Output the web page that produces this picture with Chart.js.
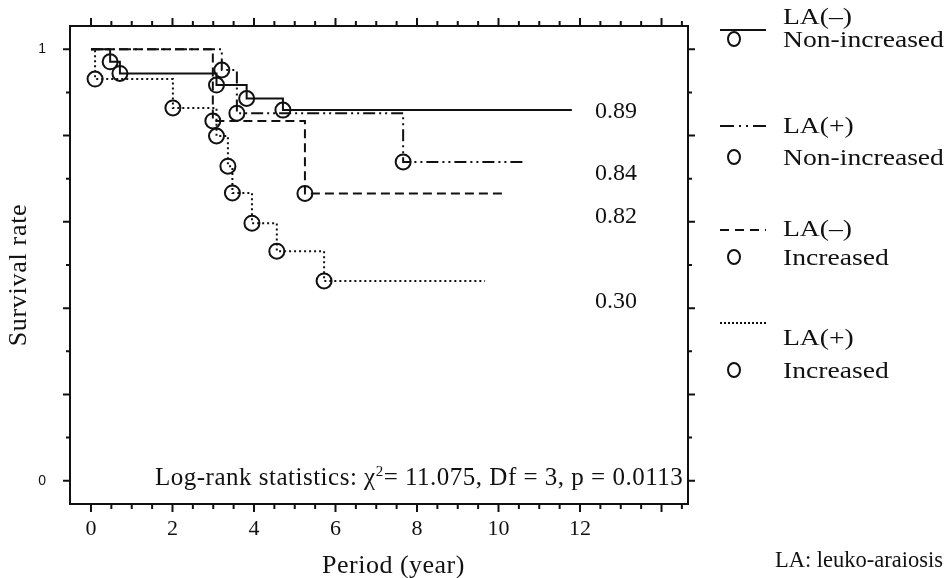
<!DOCTYPE html>
<html>
<head>
<meta charset="utf-8">
<script src="https://cdn.jsdelivr.net/npm/chart.js@4.4.1/dist/chart.umd.min.js"></script>
<style>
body { margin: 0; background: #fff; }
#wrap { position: relative; width: 946px; height: 578px; font-family: "Liberation Serif", "Times New Roman", serif; color: #111; }
#chart { position: absolute; left: 0; top: 0; }
.t { position: absolute; white-space: nowrap; font-size: 24px; line-height: 26px; }
.lg { transform: scaleX(1.15); transform-origin: left center; }
.mk { position: absolute; width: 10px; height: 12px; border: 2px solid #111; border-radius: 50%; }
svg.ls { position: absolute; }
</style>
</head>
<body>
<div id="wrap">
<canvas id="chart" width="946" height="578"></canvas>

<svg class="ls" style="left:720px;top:26px" width="48" height="8"><line x1="0" y1="4" x2="46" y2="4" stroke="#111" stroke-width="2"/></svg>
<div class="t lg" style="left:783px;top:3px">LA(–)</div>
<div class="mk" style="left:727px;top:31px"></div>
<div class="t lg" style="left:783px;top:26px">Non-increased</div>

<svg class="ls" style="left:720px;top:122px" width="48" height="8"><line x1="0" y1="4" x2="46" y2="4" stroke="#111" stroke-width="2" stroke-dasharray="14 5 2 5 2 5"/></svg>
<div class="t lg" style="left:783px;top:112px">LA(+)</div>
<div class="mk" style="left:727px;top:149px"></div>
<div class="t lg" style="left:783px;top:144px">Non-increased</div>

<svg class="ls" style="left:720px;top:226px" width="48" height="8"><line x1="0" y1="4" x2="46" y2="4" stroke="#111" stroke-width="2" stroke-dasharray="9 6"/></svg>
<div class="t lg" style="left:783px;top:215px">LA(–)</div>
<div class="mk" style="left:727px;top:249px"></div>
<div class="t lg" style="left:783px;top:244px">Increased</div>

<svg class="ls" style="left:720px;top:319px" width="48" height="8"><line x1="0" y1="4" x2="46" y2="4" stroke="#111" stroke-width="2" stroke-dasharray="2 2"/></svg>
<div class="t lg" style="left:783px;top:324px">LA(+)</div>
<div class="mk" style="left:727px;top:362px"></div>
<div class="t lg" style="left:783px;top:357px">Increased</div>

<div class="t" style="left:595px;top:97px">0.89</div>
<div class="t" style="left:595px;top:159px">0.84</div>
<div class="t" style="left:595px;top:202px">0.82</div>
<div class="t" style="left:595px;top:287px">0.30</div>

<div class="t" style="left:155px;top:464px;font-size:25px;letter-spacing:0.5px">Log-rank statistics: χ<sup style="font-size:15px;line-height:0">2</sup>= 11.075, Df = 3, p = 0.0113</div>
<div class="t" style="left:322px;top:552px;font-size:26px;letter-spacing:0.5px">Period (year)</div>
<div class="t" style="left:-62px;top:262px;width:160px;text-align:center;font-size:26px;letter-spacing:0.7px;transform:rotate(-90deg)">Survival rate</div>
<div class="t" style="left:775px;top:547px;font-size:22.5px">LA: leuko-araiosis</div>
</div>

<script>
// step points: time in years, survival rate
const laNegNonX = [0, 0.47, 0.71, 3.08, 3.82, 4.71, 11.8];
const laNegNonY = [1, 0.971, 0.944, 0.917, 0.886, 0.859, 0.859];
const laPosNonX = [0, 3.21, 3.58, 7.66, 10.6];
const laPosNonY = [1, 0.952, 0.852, 0.739, 0.739];
const laNegIncX = [0, 2.99, 5.25, 10.16];
const laNegIncY = [1, 0.834, 0.666, 0.666];
const laPosIncX = [0, 0.1, 2.01, 3.08, 3.36, 3.47, 3.95, 4.56, 5.72, 9.67];
const laPosIncY = [1, 0.931, 0.864, 0.799, 0.729, 0.667, 0.597, 0.532, 0.463, 0.463];

const xTicks = [0, 2, 4, 6, 8, 10, 12];
const yTicks = [0, 1];

function curve(label, xs, ys, dash) {
    return {
        label: label,
        data: xs.map((x, i) => ({ x: x, y: ys[i] })),
        stepped: 'before',
        borderColor: '#111',
        borderWidth: 2,
        borderDash: dash,
        fill: false,
        pointStyle: 'circle',
        pointRadius: xs.map((x, i) => (i === 0 || i === xs.length - 1) ? 0 : 7.5),
        pointBorderWidth: 2,
        pointBorderColor: '#111',
        pointBackgroundColor: 'rgba(0,0,0,0)'
    };
}

// box round the plot with outward ticks on all four sides
const frameTicks = {
    id: 'frameTicks',
    afterDraw(chart) {
        const { ctx, chartArea: a, scales: { x, y } } = chart;
        ctx.save();
        ctx.strokeStyle = '#111';
        ctx.lineWidth = 2;
        ctx.strokeRect(a.left, a.top, a.right - a.left, a.bottom - a.top);
        ctx.beginPath();
        for (let v = 0; v <= x.max; v += 0.5) {
            const px = x.getPixelForValue(v);
            const len = v % 2 === 0 ? 8 : 5;
            ctx.moveTo(px, a.bottom); ctx.lineTo(px, a.bottom + len);
            ctx.moveTo(px, a.top); ctx.lineTo(px, a.top - len);
        }
        for (let i = 0; i <= 10; i++) {
            const py = y.getPixelForValue(i / 10);
            const len = i % 2 === 0 ? 7 : 4;
            ctx.moveTo(a.left, py); ctx.lineTo(a.left - len, py);
            ctx.moveTo(a.right, py); ctx.lineTo(a.right + len, py);
        }
        ctx.stroke();
        ctx.restore();
    }
};

new Chart(document.getElementById('chart').getContext('2d'), {
    type: 'line',
    data: {
        datasets: [
            curve('LA(–) Non-increased', laNegNonX, laNegNonY, []),
            curve('LA(+) Non-increased', laPosNonX, laPosNonY, [12, 4, 2, 4, 2, 4]),
            curve('LA(–) Increased', laNegIncX, laNegIncY, [9, 5]),
            curve('LA(+) Increased', laPosIncX, laPosIncY, [2, 3])
        ]
    },
    options: {
        responsive: false,
        devicePixelRatio: 1,
        animation: false,
        layout: { padding: { left: 0, right: 258, top: 26, bottom: 0 } },
        plugins: { legend: { display: false }, tooltip: { enabled: false } },
        scales: {
            x: {
                type: 'linear',
                min: -0.515,
                max: 14.65,
                afterFit: s => { s.height = 74; },
                grid: { display: false, tickLength: 8 },
                border: { display: false },
                ticks: {
                    stepSize: 2,
                    includeBounds: false,
                    autoSkip: false,
                    maxRotation: 0,
                    padding: 4,
                    color: '#111',
                    font: { family: 'Liberation Serif', size: 22 },
                    callback: v => xTicks.includes(v) ? v : ''
                }
            },
            y: {
                type: 'linear',
                min: -0.054,
                max: 1.054,
                afterFit: s => { s.width = 70; },
                grid: { display: false, tickLength: 8 },
                border: { display: false },
                ticks: {
                    stepSize: 1,
                    includeBounds: false,
                    padding: 16,
                    color: '#111',
                    font: { family: 'Liberation Sans', size: 14 },
                    callback: v => yTicks.includes(v) ? v : ''
                }
            }
        }
    },
    plugins: [frameTicks]
});
</script>
</body>
</html>
